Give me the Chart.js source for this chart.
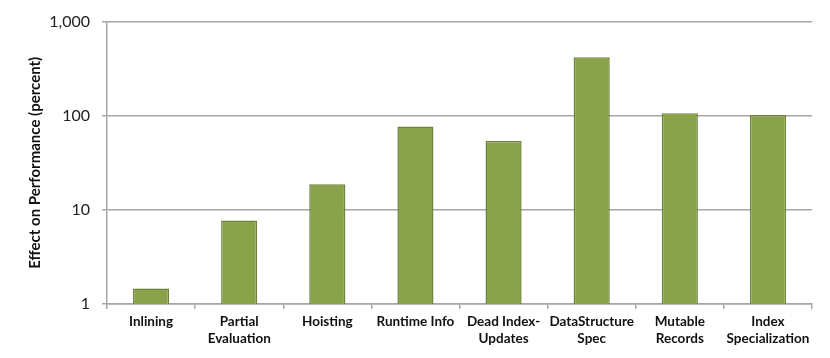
<!DOCTYPE html>
<html>
<head>
<meta charset="utf-8">
<script src="https://cdn.jsdelivr.net/npm/chart.js@4"></script>
<style>
  html, body { margin: 0; padding: 0; background: #fff; }
  #wrap { width: 830px; height: 358px; }
</style>
</head>
<body>
<div id="wrap"><canvas id="chart"></canvas></div>
<script>
const categories = [
  "Inlining",
  ["Partial", "Evaluation"],
  "Hoisting",
  "Runtime Info",
  ["Dead Index-", "Updates"],
  ["DataStructure", "Spec"],
  ["Mutable", "Records"],
  ["Index", "Specialization"],
];
const effect = [1.46, 7.7, 18.7, 77, 54, 417, 106, 102];
const yTicks = [1, 10, 100, 1000];

const ctx = document.getElementById("chart");

new Chart(ctx, {
  type: "bar",
  data: {
    labels: categories,
    datasets: [
      {
        label: "Effect on Performance",
        data: effect,
        backgroundColor: "#8aa34b",
        borderColor: "#6d8538",
        borderWidth: 1.5,
        barPercentage: 0.41,
        categoryPercentage: 1,
      },
    ],
  },
  options: {
    responsive: true,
    maintainAspectRatio: false,
    animation: false,
    layout: { padding: { left: 0, right: 18, top: 18, bottom: 0 } },
    plugins: {
      legend: { display: false },
      tooltip: { enabled: false },
    },
    scales: {
      x: {
        grid: {
          offset: true,
          drawOnChartArea: false,
          color: "#a6a6a6",
          tickLength: 5,
          lineWidth: 1.5,
        },
        border: { color: "#a6a6a6", width: 1.5 },
        ticks: {
          color: "#111",
          font: { family: "Lato", size: 13.5, weight: "bold", lineHeight: 1.2 },
          maxRotation: 0,
          autoSkip: false,
          padding: 5,
        },
        afterFit: (s) => { s.height = 54; },
      },
      y: {
        type: "logarithmic",
        min: 1,
        max: 1000,
        grid: { color: "#a6a6a6", tickLength: 5, lineWidth: 1.5 },
        border: { color: "#a6a6a6", width: 1.5 },
        afterBuildTicks: (s) => { s.ticks = yTicks.map((v) => ({ value: v })); },
        ticks: {
          color: "#222",
          font: { family: "Lato", size: 16 },
          padding: 12,
          callback: (v) => v.toLocaleString("en-US"),
        },
        title: {
          display: true,
          text: "Effect on Performance (percent)",
          color: "#111",
          font: { family: "Lato", size: 15, weight: "bold" },
          padding: { top: 26, bottom: 8 },
        },
        afterFit: (s) => { s.width = 107; },
      },
    },
  },
});
</script>
</body>
</html>
